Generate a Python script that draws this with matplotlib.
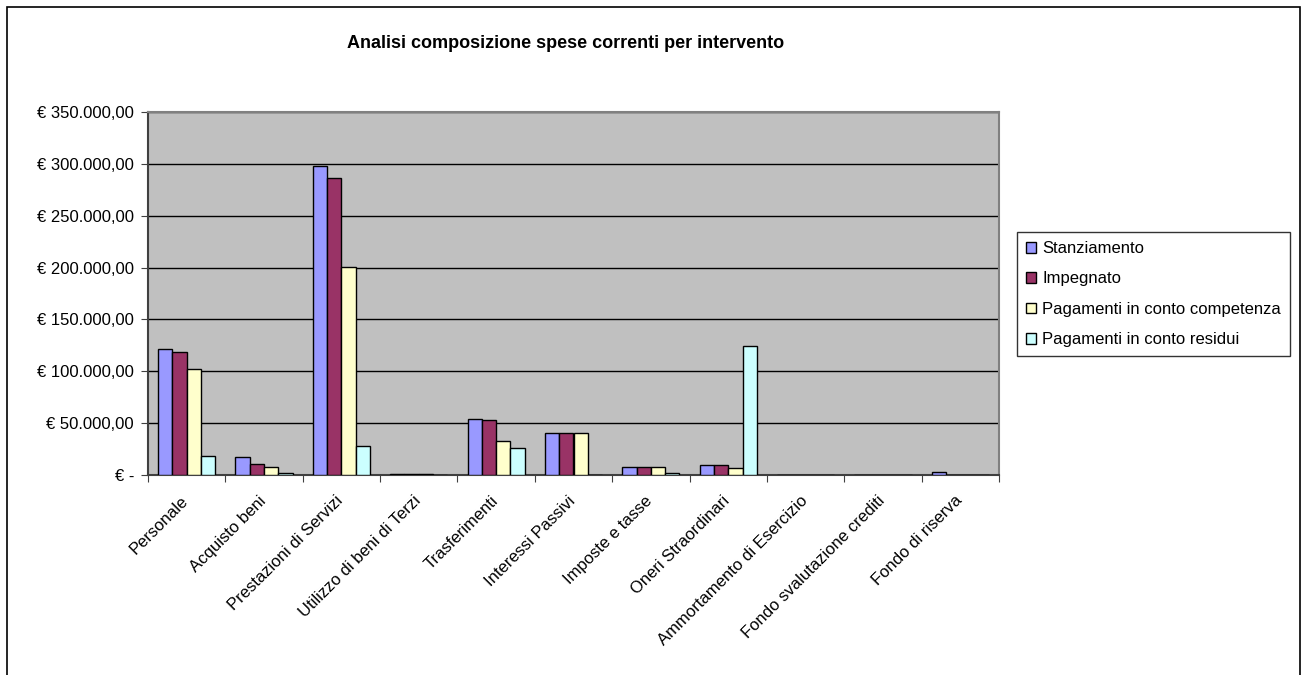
import numpy as np
import matplotlib.pyplot as plt
import matplotlib.transforms as mtransforms
from matplotlib.patches import Rectangle
from matplotlib.ticker import FuncFormatter

plt.rcParams['font.family'] = ['Liberation Sans', 'DejaVu Sans']

categories = ["Personale", "Acquisto beni", "Prestazioni di Servizi",
              "Utilizzo di beni di Terzi", "Trasferimenti", "Interessi Passivi",
              "Imposte e tasse", "Oneri Straordinari", "Ammortamento di Esercizio",
              "Fondo svalutazione crediti", "Fondo di riserva"]

stanziamento = [121300, 17000, 298000, 1200, 54300, 40500, 7700, 9300, 0, 0, 3200]
impegnato    = [118400, 10900, 286700, 1200, 52800, 40500, 7700, 9300, 0, 0, 0]
competenza   = [102600,  7700, 201000, 1200, 33100, 40500, 7700, 6400, 0, 0, 0]
residui      = [ 18600,  1900,  28000,    0, 26400,     0, 1600, 124800, 0, 0, 0]

series = [("Stanziamento", stanziamento, "#9999FF"),
          ("Impegnato", impegnato, "#993366"),
          ("Pagamenti in conto competenza", competenza, "#FFFFCC"),
          ("Pagamenti in conto residui", residui, "#CCFFFF")]

fig = plt.figure(figsize=(13.01, 6.75), dpi=100)
fig.patches.append(Rectangle((7 / 1301, -0.05), 1293 / 1301, 1.05 - 7 / 675,
                             transform=fig.transFigure, fill=False,
                             edgecolor="black", linewidth=1.2))

ax = fig.add_axes([148 / 1301, 1 - 475 / 675, 851 / 1301, 363 / 675])
ax.set_facecolor("#C0C0C0")

x = np.arange(len(categories))
w = 0.185
for i, (name, vals, col) in enumerate(series):
    ax.bar(x + (i - 1.5) * w, vals, w, color=col, edgecolor="black",
           linewidth=1.0, label=name, zorder=3)

ax.set_xlim(-0.5, len(categories) - 0.5)
ax.set_ylim(0, 350000)
ax.set_yticks(np.arange(0, 350001, 50000))
ax.yaxis.grid(True, color="black", linewidth=1.0, zorder=1)


def euro(v, pos):
    if v == 0:
        return "€ -"
    s = "{:,.2f}".format(v).replace(",", "X").replace(".", ",").replace("X", ".")
    return "€ " + s


ax.yaxis.set_major_formatter(FuncFormatter(euro))
ax.tick_params(axis="y", labelsize=12, length=5, pad=5, color="#404040")

ax.set_xticks(np.arange(-0.5, len(categories), 1.0))
ax.set_xticklabels([])
ax.set_xticks(x, minor=True)
ax.set_xticklabels(categories, minor=True, rotation=45, ha="right",
                   va="top", rotation_mode="anchor", fontsize=12)
ax.tick_params(axis="x", which="major", length=5, color="#404040")
ax.tick_params(axis="x", which="minor", length=0, pad=13)
shift = mtransforms.ScaledTranslation(-6 / 100, 0, fig.dpi_scale_trans)
for lbl in ax.get_xticklabels(minor=True):
    lbl.set_transform(lbl.get_transform() + shift)

for sp in ["top", "right"]:
    ax.spines[sp].set_color("#808080")
    ax.spines[sp].set_linewidth(1.5)
for sp in ["left", "bottom"]:
    ax.spines[sp].set_color("#404040")
    ax.spines[sp].set_linewidth(1.5)

fig.text(566 / 1301, 1 - 43 / 675, "Analisi composizione spese correnti per intervento",
         ha="center", va="center", fontsize=13, fontweight="bold")

leg = fig.legend(loc="upper left", bbox_to_anchor=(1017 / 1301, 1 - 232 / 675),
                 fontsize=12, frameon=True, fancybox=False, handlelength=0.6,
                 handleheight=0.6, handletextpad=0.35, labelspacing=0.92,
                 borderpad=0.55, borderaxespad=0)
leg.get_frame().set_edgecolor("black")
leg.get_frame().set_linewidth(1.0)

fig.savefig("out.png", dpi=100)
